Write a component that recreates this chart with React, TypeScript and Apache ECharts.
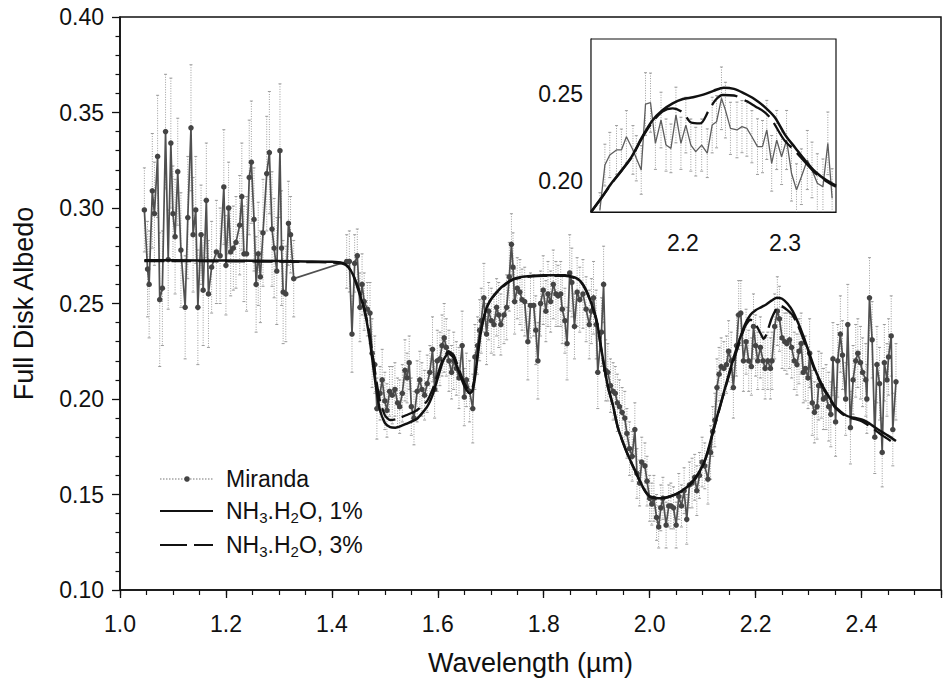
import React, { useEffect, useRef } from 'react';
import * as echarts from 'echarts';

const FONT = '"Liberation Sans", Arial, Helvetica, sans-serif';

// Miranda spectrum: [wavelength (µm), albedo, 1-sigma error]
const mirandaMain: [number, number, number][] = [
  [1.046,0.299,0.022],[1.052,0.268,0.025],[1.055,0.260,0.028],[1.061,0.309,0.030],[1.065,0.297,0.027],
  [1.071,0.327,0.032],[1.075,0.252,0.035],[1.080,0.258,0.030],[1.086,0.340,0.030],[1.091,0.273,0.026],
  [1.096,0.334,0.034],[1.100,0.297,0.025],[1.104,0.285,0.030],[1.109,0.319,0.028],[1.115,0.278,0.030],
  [1.123,0.248,0.027],[1.128,0.295,0.032],[1.134,0.342,0.033],[1.138,0.286,0.030],[1.143,0.299,0.028],
  [1.147,0.248,0.030],[1.153,0.286,0.026],[1.157,0.257,0.029],[1.163,0.304,0.030],[1.167,0.255,0.028],
  [1.173,0.269,0.024],[1.182,0.277,0.027],[1.189,0.275,0.025],[1.196,0.311,0.030],[1.200,0.270,0.026],
  [1.205,0.300,0.024],[1.209,0.277,0.023],[1.214,0.279,0.022],[1.219,0.282,0.024],[1.226,0.291,0.026],
  [1.230,0.306,0.028],[1.234,0.276,0.025],[1.239,0.276,0.030],[1.244,0.316,0.030],[1.248,0.324,0.032],
  [1.253,0.294,0.027],[1.257,0.260,0.025],[1.261,0.276,0.027],[1.265,0.264,0.024],[1.270,0.287,0.028],
  [1.277,0.318,0.030],[1.282,0.329,0.032],[1.287,0.289,0.030],[1.291,0.279,0.026],[1.296,0.267,0.028],
  [1.302,0.330,0.035],[1.305,0.279,0.030],[1.308,0.256,0.027],[1.313,0.255,0.025],[1.318,0.292,0.022],
  [1.322,0.286,0.020],[1.328,0.263,0.020],
  [1.428,0.272,0.014],[1.433,0.272,0.016],[1.438,0.234,0.020],[1.443,0.271,0.015],[1.448,0.275,0.014],
  [1.453,0.248,0.018],[1.457,0.260,0.016],[1.461,0.251,0.015],[1.467,0.247,0.014],[1.472,0.245,0.016],
  [1.476,0.224,0.018],[1.481,0.218,0.015],[1.485,0.195,0.016],[1.491,0.203,0.014],[1.495,0.210,0.016],
  [1.500,0.199,0.015],[1.504,0.194,0.014],[1.509,0.204,0.013],[1.514,0.202,0.015],[1.519,0.205,0.014],
  [1.524,0.198,0.013],[1.528,0.196,0.014],[1.533,0.203,0.015],[1.538,0.215,0.016],[1.542,0.211,0.013],
  [1.546,0.219,0.014],[1.550,0.196,0.015],[1.555,0.190,0.014],[1.561,0.204,0.016],[1.566,0.210,0.015],
  [1.570,0.205,0.014],[1.575,0.202,0.013],[1.580,0.208,0.015],[1.585,0.214,0.014],[1.590,0.226,0.017],
  [1.594,0.205,0.015],[1.599,0.220,0.016],[1.604,0.221,0.014],[1.608,0.228,0.016],[1.612,0.232,0.018],
  [1.616,0.227,0.015],[1.621,0.220,0.016],[1.626,0.214,0.014],[1.630,0.220,0.015],[1.635,0.216,0.014],
  [1.640,0.211,0.016],[1.646,0.228,0.018],[1.650,0.201,0.015],[1.654,0.210,0.014],[1.660,0.204,0.016],
  [1.666,0.195,0.018],[1.670,0.222,0.017],[1.675,0.228,0.015],[1.679,0.236,0.016],[1.682,0.241,0.017],
  [1.687,0.253,0.018],[1.692,0.234,0.016],[1.696,0.246,0.015],[1.701,0.241,0.017],[1.706,0.239,0.016],
  [1.711,0.248,0.015],[1.715,0.244,0.017],[1.719,0.239,0.016],[1.725,0.244,0.015],[1.730,0.248,0.017],
  [1.735,0.264,0.018],[1.739,0.281,0.016],[1.742,0.269,0.018],[1.745,0.251,0.017],[1.750,0.258,0.016],
  [1.755,0.256,0.017],[1.759,0.252,0.016],[1.764,0.251,0.018],[1.770,0.230,0.020],[1.775,0.249,0.017],
  [1.781,0.249,0.016],[1.785,0.236,0.018],[1.789,0.220,0.020],[1.794,0.250,0.017],[1.799,0.257,0.018],
  [1.804,0.246,0.016],[1.808,0.255,0.017],[1.813,0.251,0.016],[1.818,0.260,0.018],[1.823,0.255,0.017],
  [1.827,0.254,0.016],[1.832,0.255,0.017],[1.835,0.247,0.018],[1.840,0.241,0.017],[1.844,0.229,0.019],
  [1.849,0.266,0.020],[1.853,0.261,0.018],[1.858,0.238,0.017],[1.863,0.256,0.018],[1.868,0.252,0.017],
  [1.874,0.255,0.018],[1.880,0.247,0.017],[1.886,0.239,0.018],[1.890,0.246,0.017],[1.894,0.253,0.019],
  [1.899,0.239,0.018],[1.902,0.214,0.019],[1.909,0.235,0.018],[1.913,0.260,0.020],[1.917,0.215,0.016],
  [1.921,0.214,0.015],[1.926,0.207,0.014],[1.931,0.204,0.015],[1.935,0.203,0.014],[1.939,0.198,0.015],
  [1.943,0.196,0.014],[1.948,0.193,0.013],[1.953,0.190,0.014],[1.957,0.182,0.013],[1.962,0.174,0.014],
  [1.967,0.170,0.013],[1.972,0.184,0.014],[1.976,0.161,0.013],[1.981,0.156,0.012],[1.985,0.167,0.013],
  [1.991,0.165,0.012],[1.995,0.157,0.013],[2.000,0.148,0.012],[2.004,0.145,0.011],[2.008,0.148,0.012],
  [2.013,0.138,0.012],[2.017,0.133,0.011],[2.021,0.143,0.012],[2.025,0.148,0.011],[2.031,0.134,0.012],
  [2.036,0.144,0.011],[2.040,0.144,0.012],[2.045,0.143,0.011],[2.050,0.134,0.012],[2.055,0.149,0.012],
  [2.060,0.144,0.011],[2.065,0.152,0.012],[2.070,0.137,0.013],[2.075,0.155,0.012],[2.080,0.156,0.013],
  [2.085,0.159,0.012],[2.089,0.152,0.013],[2.094,0.160,0.012],[2.099,0.167,0.013],[2.104,0.165,0.012],
  [2.110,0.158,0.013],[2.115,0.172,0.014],[2.119,0.183,0.013],[2.123,0.189,0.014],[2.127,0.206,0.015],
  [2.131,0.213,0.014],[2.135,0.217,0.015],[2.140,0.216,0.014],[2.145,0.218,0.015],[2.149,0.225,0.016],
  [2.154,0.220,0.015],[2.158,0.206,0.016],[2.164,0.228,0.016],[2.168,0.244,0.018],[2.172,0.245,0.017],
  [2.177,0.220,0.016],[2.182,0.230,0.017],[2.187,0.220,0.016],[2.192,0.217,0.015],[2.196,0.238,0.017],
  [2.200,0.228,0.016],[2.204,0.220,0.015],[2.209,0.227,0.016],[2.214,0.220,0.015],[2.218,0.216,0.016],
  [2.223,0.220,0.015],[2.228,0.216,0.016],[2.231,0.220,0.015],[2.236,0.238,0.017],[2.241,0.246,0.018],
  [2.245,0.242,0.017],[2.250,0.232,0.016],[2.255,0.230,0.015],[2.259,0.229,0.016],[2.264,0.231,0.015],
  [2.268,0.227,0.016],[2.273,0.220,0.015],[2.278,0.218,0.016],[2.282,0.225,0.017],[2.286,0.229,0.016],
  [2.290,0.214,0.016],[2.294,0.216,0.017],[2.299,0.211,0.016],[2.302,0.224,0.018],[2.307,0.198,0.017],
  [2.311,0.193,0.016],[2.316,0.196,0.017],[2.319,0.207,0.018],[2.324,0.207,0.017],[2.328,0.200,0.016],
  [2.333,0.201,0.017],[2.338,0.196,0.018],[2.342,0.192,0.017],[2.346,0.221,0.019],[2.351,0.188,0.018],
  [2.355,0.220,0.019],[2.360,0.234,0.020],[2.364,0.223,0.018],[2.370,0.200,0.019],[2.374,0.239,0.021],
  [2.379,0.185,0.019],[2.384,0.210,0.018],[2.389,0.220,0.019],[2.393,0.224,0.018],[2.398,0.219,0.019],
  [2.402,0.214,0.018],[2.408,0.210,0.019],[2.410,0.200,0.018],[2.415,0.253,0.021],[2.420,0.231,0.020],
  [2.425,0.180,0.019],[2.429,0.218,0.020],[2.434,0.208,0.019],[2.439,0.172,0.018],[2.443,0.219,0.020],
  [2.448,0.210,0.019],[2.451,0.222,0.020],[2.456,0.233,0.021],[2.459,0.184,0.019],[2.465,0.209,0.020],
];

// NH3.H2O model, 1%
const model1Main: [number, number][] = [
  [1.046,0.2726],[1.10,0.2726],[1.20,0.2725],[1.30,0.2722],[1.35,0.2720],[1.40,0.2718],[1.42,0.2712],
  [1.43,0.2695],[1.44,0.2650],[1.45,0.2570],[1.46,0.2480],[1.47,0.2340],[1.48,0.2130],[1.49,0.1950],
  [1.50,0.1875],[1.51,0.1853],[1.52,0.1850],[1.53,0.1858],[1.54,0.1870],[1.56,0.1895],[1.58,0.1960],
  [1.59,0.2020],[1.60,0.2110],[1.61,0.2200],[1.62,0.2240],[1.63,0.2215],[1.64,0.2140],[1.65,0.2070],
  [1.66,0.2030],[1.665,0.2040],[1.67,0.2110],[1.68,0.2330],[1.69,0.2460],[1.70,0.2520],[1.72,0.2585],
  [1.74,0.2625],[1.76,0.2640],[1.80,0.2648],[1.84,0.2648],[1.86,0.2635],[1.87,0.2615],[1.88,0.2570],
  [1.89,0.2500],[1.90,0.2410],[1.91,0.2240],[1.92,0.2080],[1.93,0.1975],[1.94,0.1850],[1.95,0.1770],
  [1.96,0.1700],[1.97,0.1640],[1.98,0.1580],[1.99,0.1525],[2.00,0.1490],[2.02,0.1480],[2.04,0.1492],
  [2.06,0.1518],[2.08,0.1565],[2.10,0.1650],[2.11,0.1730],[2.12,0.1835],[2.13,0.1935],[2.14,0.2035],
  [2.15,0.2135],[2.16,0.2230],[2.17,0.2315],[2.18,0.2390],[2.19,0.2440],[2.20,0.2465],[2.21,0.2480],
  [2.22,0.2495],[2.23,0.2515],[2.24,0.2530],[2.25,0.2525],[2.26,0.2500],[2.27,0.2460],[2.28,0.2400],
  [2.29,0.2330],[2.30,0.2250],[2.31,0.2170],[2.32,0.2105],[2.33,0.2050],[2.34,0.2005],[2.35,0.1960],
  [2.36,0.1935],[2.37,0.1915],[2.38,0.1905],[2.39,0.1900],[2.40,0.1893],[2.41,0.1880],[2.42,0.1862],
  [2.43,0.1843],[2.44,0.1825],[2.45,0.1808],[2.465,0.1780],
];

// NH3.H2O model, 3%
const model3Main: [number, number][] = [
  [1.046,0.2722],[1.10,0.2722],[1.20,0.2721],[1.30,0.2719],[1.35,0.2717],[1.40,0.2715],[1.42,0.2709],
  [1.43,0.2693],[1.44,0.2652],[1.45,0.2580],[1.46,0.2490],[1.47,0.2360],[1.48,0.2170],[1.49,0.2000],
  [1.50,0.1915],[1.51,0.1890],[1.52,0.1893],[1.53,0.1903],[1.54,0.1915],[1.56,0.1940],[1.58,0.1990],
  [1.59,0.2050],[1.60,0.2130],[1.61,0.2210],[1.62,0.2250],[1.63,0.2230],[1.64,0.2155],[1.65,0.2085],
  [1.66,0.2045],[1.665,0.2055],[1.67,0.2120],[1.68,0.2335],[1.69,0.2460],[1.70,0.2520],[1.72,0.2583],
  [1.74,0.2622],[1.76,0.2637],[1.80,0.2645],[1.84,0.2645],[1.86,0.2632],[1.87,0.2612],[1.88,0.2567],
  [1.89,0.2497],[1.90,0.2405],[1.91,0.2235],[1.92,0.2075],[1.93,0.1970],[1.94,0.1848],[1.95,0.1768],
  [1.96,0.1698],[1.97,0.1638],[1.98,0.1578],[1.99,0.1523],[2.00,0.1488],[2.02,0.1478],[2.04,0.1490],
  [2.06,0.1516],[2.08,0.1562],[2.10,0.1645],[2.11,0.1725],[2.12,0.1830],[2.13,0.1930],[2.14,0.2030],
  [2.15,0.2125],[2.16,0.2215],[2.17,0.2300],[2.18,0.2380],[2.19,0.2415],[2.20,0.2390],[2.21,0.2340],
  [2.215,0.2315],[2.22,0.2335],[2.23,0.2420],[2.24,0.2478],[2.245,0.2487],[2.25,0.2485],[2.26,0.2465],
  [2.27,0.2438],[2.28,0.2385],[2.29,0.2315],[2.30,0.2240],[2.31,0.2162],[2.32,0.2098],[2.33,0.2043],
  [2.34,0.1998],[2.35,0.1955],[2.36,0.1930],[2.37,0.1910],[2.38,0.1900],[2.39,0.1893],[2.40,0.1884],
  [2.41,0.1868],[2.42,0.1848],[2.43,0.1828],[2.44,0.1808],[2.45,0.1790],[2.465,0.1762],
];

// Inset (2.11 - 2.35 µm)
const mirandaInset: [number, number, number][] = [
  [2.1187,0.1831,0.010],[2.1236,0.2090,0.012],[2.1284,0.2148,0.013],[2.1350,0.2177,0.014],[2.1398,0.2177,0.012],
  [2.1447,0.2253,0.015],[2.1511,0.2177,0.014],[2.1544,0.2129,0.013],[2.1592,0.2062,0.014],[2.1634,0.2441,0.018],
  [2.1683,0.2449,0.017],[2.1731,0.2215,0.015],[2.1786,0.2349,0.016],[2.1835,0.2205,0.015],[2.1883,0.2186,0.014],
  [2.1932,0.2378,0.016],[2.1981,0.2215,0.015],[2.2029,0.2320,0.016],[2.2078,0.2205,0.015],[2.2126,0.2167,0.014],
  [2.2184,0.2205,0.015],[2.2239,0.2158,0.014],[2.2287,0.2320,0.016],[2.2330,0.2339,0.015],[2.2378,0.2474,0.018],
  [2.2417,0.2406,0.016],[2.2466,0.2301,0.015],[2.2530,0.2292,0.016],[2.2579,0.2311,0.015],[2.2627,0.2301,0.016],
  [2.2676,0.2253,0.015],[2.2731,0.2196,0.016],[2.2780,0.2196,0.015],[2.2822,0.2292,0.017],[2.2870,0.2100,0.016],
  [2.2919,0.2234,0.017],[2.2967,0.2138,0.016],[2.3016,0.2234,0.017],[2.3064,0.2043,0.016],[2.3113,0.1947,0.015],
  [2.3161,0.2023,0.016],[2.3219,0.2119,0.017],[2.3265,0.2062,0.016],[2.3317,0.1985,0.017],[2.3372,0.1965,0.016],
  [2.3420,0.2215,0.018],[2.3462,0.1899,0.017],
];

const model1Inset: [number, number][] = [
  [2.11,0.1820],[2.12,0.1900],[2.13,0.1985],[2.14,0.2060],[2.15,0.2140],[2.16,0.2250],[2.17,0.2345],
  [2.18,0.2405],[2.19,0.2445],[2.20,0.2470],[2.21,0.2480],[2.22,0.2495],[2.23,0.2517],[2.24,0.2535],
  [2.25,0.2528],[2.26,0.2502],[2.27,0.2470],[2.28,0.2425],[2.29,0.2365],[2.30,0.2265],[2.31,0.2190],
  [2.32,0.2115],[2.33,0.2050],[2.34,0.2005],[2.35,0.1972],
];

const model3Inset: [number, number][] = [
  [2.11,0.1818],[2.12,0.1898],[2.13,0.1982],[2.14,0.2057],[2.15,0.2137],[2.16,0.2245],[2.17,0.2335],
  [2.18,0.2398],[2.19,0.2416],[2.20,0.2392],[2.208,0.2335],[2.217,0.2330],[2.225,0.2400],[2.232,0.2464],
  [2.239,0.2493],[2.25,0.2490],[2.263,0.2455],[2.271,0.2427],[2.28,0.2395],[2.287,0.2351],[2.299,0.2236],
  [2.31,0.2170],[2.32,0.2105],[2.33,0.2042],[2.34,0.1998],[2.35,0.1965],
];

const insetXLabels = [2.2, 2.3];
const insetYLabels = [0.2, 0.25];
const insetXTicks = [2.12,2.13,2.14,2.15,2.16,2.17,2.18,2.19,2.2,2.21,2.22,2.23,2.24,2.25,2.26,2.27,2.28,2.29,2.3,2.31,2.32,2.33,2.34];
const insetYTicks = [0.19,0.2,0.21,0.22,0.23,0.24,0.25,0.26,0.27,0.28];

const legendLabels = ['Miranda', '{a|NH}{b|3}{a|.H}{b|2}{a|O, 1%}', '{a|NH}{b|3}{a|.H}{b|2}{a|O, 3%}'];

const INK = '#111';

export default function App() {
  const ref = useRef<HTMLDivElement>(null);

  useEffect(() => {
    const chart = echarts.init(ref.current as HTMLDivElement, null, { renderer: 'svg' });

    const toBars = (d: [number, number, number][]) => d.map((p) => [p[0], p[1] - p[2], p[1] + p[2]]);
    const renderErr = (params: any, api: any) => {
      const x = api.value(0);
      const lo = api.coord([x, api.value(1)]);
      const hi = api.coord([x, api.value(2)]);
      const st = { stroke: '#9c9c9c', lineWidth: 1 };
      return {
        type: 'group',
        children: [
          { type: 'line', shape: { x1: hi[0], y1: hi[1], x2: lo[0], y2: lo[1] }, style: { ...st, lineDash: [1, 1.5] } },
          { type: 'line', shape: { x1: hi[0] - 1.5, y1: hi[1], x2: hi[0] + 1.5, y2: hi[1] }, style: st },
          { type: 'line', shape: { x1: lo[0] - 1.5, y1: lo[1], x2: lo[0] + 1.5, y2: lo[1] }, style: st },
        ],
      };
    };

    const labelStyle = { fontSize: 23, color: INK, fontFamily: FONT };
    const rich = {
      a: { fontSize: 23, fontFamily: FONT, fill: INK, lineHeight: 28 },
      b: { fontSize: 15, fontFamily: FONT, fill: INK, verticalAlign: 'bottom' },
    };

    const option: any = {
      animation: false,
      backgroundColor: '#fff',
      grid: [
        { left: 120, top: 17, width: 821, height: 573, show: true, borderColor: INK, borderWidth: 1.5, backgroundColor: 'transparent' },
        { left: 591, top: 39, width: 245, height: 173, show: true, borderColor: INK, borderWidth: 1.2, backgroundColor: '#fff', z: 5 },
      ],
      xAxis: [
        {
          gridIndex: 0, type: 'value', min: 1.0, max: 2.55, interval: 0.2,
          axisLine: { show: true, onZero: false, lineStyle: { color: INK, width: 1.6 } },
          axisTick: { show: true, length: 8, lineStyle: { color: INK, width: 1.3 } },
          axisLabel: { ...labelStyle, margin: 22, formatter: (v: number) => (v > 2.5 ? '' : v.toFixed(1)) },
          splitLine: { show: false },
          name: 'Wavelength (µm)', nameLocation: 'middle', nameGap: 59,
          nameTextStyle: { fontSize: 27, color: INK, fontFamily: FONT },
        },
        {
          gridIndex: 0, type: 'value', min: 1.0, max: 2.55, interval: 0.05, position: 'bottom',
          axisLine: { show: false },
          axisTick: { show: true, length: 5, lineStyle: { color: INK, width: 1.2 } },
          axisLabel: { show: false }, splitLine: { show: false },
        },
        {
          gridIndex: 1, type: 'value', min: 2.11, max: 2.35,
          axisLine: { show: true, onZero: false, lineStyle: { color: INK, width: 1.2 } },
          axisTick: { show: true, inside: true, length: 3, customValues: insetXTicks, lineStyle: { color: INK, width: 1 } },
          axisLabel: { ...labelStyle, margin: 19, customValues: insetXLabels, formatter: (v: number) => v.toFixed(1) },
          splitLine: { show: false },
        },
      ],
      yAxis: [
        {
          gridIndex: 0, type: 'value', min: 0.1, max: 0.4, interval: 0.05,
          axisLine: { show: true, onZero: false, lineStyle: { color: INK, width: 1.6 } },
          axisTick: { show: true, length: 8, lineStyle: { color: INK, width: 1.3 } },
          minorTick: { show: true, splitNumber: 5, length: 4.5, lineStyle: { color: INK, width: 1.2 } },
          axisLabel: { ...labelStyle, margin: 16, formatter: (v: number) => v.toFixed(2) },
          splitLine: { show: false }, minorSplitLine: { show: false },
          name: 'Full Disk Albedo', nameLocation: 'middle', nameGap: 83,
          nameTextStyle: { fontSize: 27, color: INK, fontFamily: FONT },
        },
        {
          gridIndex: 1, type: 'value', min: 0.182, max: 0.2815,
          axisLine: { show: true, onZero: false, lineStyle: { color: INK, width: 1.2 } },
          axisTick: { show: true, inside: true, length: 4, customValues: insetYTicks, lineStyle: { color: INK, width: 1 } },
          axisLabel: { ...labelStyle, margin: 8, customValues: insetYLabels, formatter: (v: number) => v.toFixed(2) },
          splitLine: { show: false },
        },
      ],
      series: [
        {
          type: 'custom', xAxisIndex: 0, yAxisIndex: 0, data: toBars(mirandaMain),
          encode: { x: 0, y: [1, 2] }, renderItem: renderErr, silent: true, clip: true, z: 1,
        },
        {
          type: 'line', xAxisIndex: 0, yAxisIndex: 0, data: mirandaMain.map((p) => [p[0], p[1]]),
          symbol: 'circle', symbolSize: 5.5, showSymbol: true,
          itemStyle: { color: '#444' }, lineStyle: { color: '#505050', width: 1.7 }, z: 3, silent: true,
        },
        {
          type: 'line', xAxisIndex: 0, yAxisIndex: 0, data: model1Main, symbol: 'none', smooth: 0.2,
          lineStyle: { color: INK, width: 2.5 }, z: 4, silent: true,
        },
        {
          type: 'line', xAxisIndex: 0, yAxisIndex: 0, data: model3Main, symbol: 'none', smooth: 0.2,
          lineStyle: { color: INK, width: 2.3, type: [20, 7] }, z: 4, silent: true,
        },
        {
          type: 'custom', xAxisIndex: 2, yAxisIndex: 1, data: toBars(mirandaInset),
          encode: { x: 0, y: [1, 2] }, renderItem: renderErr, silent: true, clip: true, z: 6,
        },
        {
          type: 'line', xAxisIndex: 2, yAxisIndex: 1, data: mirandaInset.map((p) => [p[0], p[1]]),
          symbol: 'none', lineStyle: { color: '#5e5e5e', width: 1.3 }, z: 7, silent: true,
        },
        {
          type: 'line', xAxisIndex: 2, yAxisIndex: 1, data: model1Inset, symbol: 'none', smooth: 0.3,
          lineStyle: { color: INK, width: 2.5 }, z: 8, silent: true,
        },
        {
          type: 'line', xAxisIndex: 2, yAxisIndex: 1, data: model3Inset, symbol: 'none', smooth: 0.3,
          lineStyle: { color: INK, width: 2.3, type: [30, 8] }, z: 8, silent: true,
        },
      ],
      graphic: [
        { type: 'line', shape: { x1: 160, y1: 479, x2: 213, y2: 479 }, style: { stroke: '#777', lineWidth: 1.2, lineDash: [1.5, 1.5] }, z: 10 },
        { type: 'circle', shape: { cx: 187, cy: 479, r: 2.8 }, style: { fill: '#444' }, z: 10 },
        { type: 'text', x: 226, y: 479, style: { text: legendLabels[0], fontSize: 23, fontFamily: FONT, fill: INK, verticalAlign: 'middle' }, z: 10 },
        { type: 'line', shape: { x1: 160, y1: 511, x2: 213, y2: 511 }, style: { stroke: INK, lineWidth: 2 }, z: 10 },
        { type: 'text', x: 226, y: 511, style: { text: legendLabels[1], rich, verticalAlign: 'middle' }, z: 10 },
        { type: 'line', shape: { x1: 160, y1: 545, x2: 213, y2: 545 }, style: { stroke: INK, lineWidth: 2, lineDash: [27, 7] }, z: 10 },
        { type: 'text', x: 226, y: 545, style: { text: legendLabels[2], rich, verticalAlign: 'middle' }, z: 10 },
      ],
    };

    chart.setOption(option);
    return () => chart.dispose();
  }, []);

  return (
    <div
      ref={ref}
      style={{ position: 'absolute', left: 0, top: 0, width: 944, height: 690, background: '#fff' }}
    />
  );
}
